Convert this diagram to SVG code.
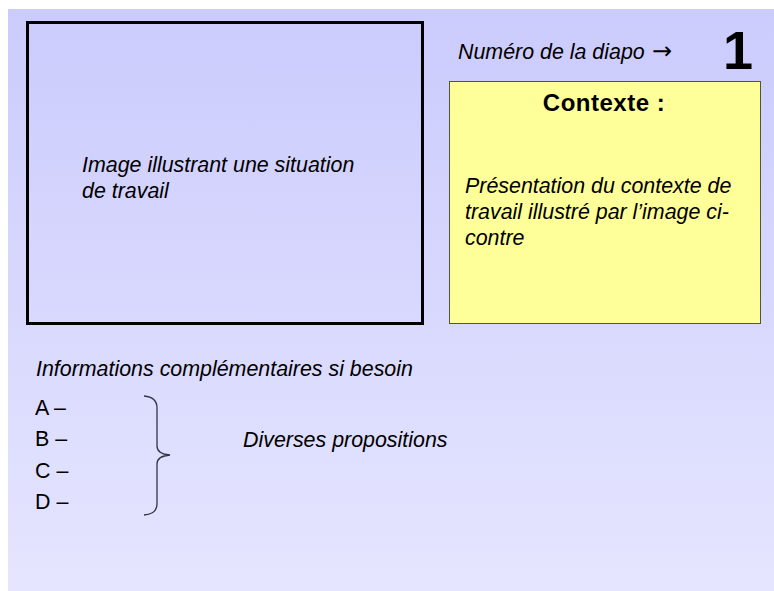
<svg xmlns="http://www.w3.org/2000/svg" width="774" height="591" viewBox="0 0 774 591">
<defs>
<linearGradient id="bg" x1="0" y1="0" x2="0" y2="1">
<stop offset="0" stop-color="#cbcbfd"/>
<stop offset="1" stop-color="#e5e5ff"/>
</linearGradient>
</defs>
<style>
text{font-family:"Liberation Sans",Arial,sans-serif;fill:#000}
.it{font-style:italic;font-size:21.4px}
.rg{font-size:21.4px}
</style>
<rect x="0" y="0" width="774" height="591" fill="#ffffff"/>
<rect x="8" y="9" width="766" height="582" fill="url(#bg)"/>
<g id="image-box">
<rect x="27.5" y="22.5" width="395" height="301" fill="none" stroke="#000" stroke-width="3"/>
<text class="it" x="82" y="172">Image illustrant une situation</text>
<text class="it" x="82" y="198">de travail</text>
</g>
<g id="slide-number">
<text class="it" x="458" y="59">Numéro de la diapo <tspan x="652" font-family="'DejaVu Sans',sans-serif" font-style="normal" font-size="24">→</tspan></text>
<text x="723" y="69" font-size="54" font-weight="bold">1</text>
</g>
<g id="context-box">
<rect x="449.5" y="81.5" width="311" height="242" fill="#ffff99" stroke="#555533" stroke-width="1"/>
<text x="604" y="111" font-size="24" font-weight="bold" letter-spacing="0.5" text-anchor="middle">Contexte :</text>
<text class="it" x="465" y="193">Présentation du contexte de</text>
<text class="it" x="465" y="219">travail illustré par l’image ci-</text>
<text class="it" x="465" y="245">contre</text>
</g>
<g id="info">
<text class="it" x="36" y="376">Informations complémentaires si besoin</text>
<text class="rg" x="35" y="415">A –</text>
<text class="rg" x="35" y="446">B –</text>
<text class="rg" x="35" y="478">C –</text>
<text class="rg" x="35" y="509">D –</text>
</g>
<g id="connectors">
<path d="M144 396 Q157 397 157 408 L157 446 Q157 454 170 455 Q157 456 157 464 L157 504 Q157 514 144 515" fill="none" stroke="#333344" stroke-width="1.3"/>
</g>
<g id="propositions">
<text class="it" x="243" y="447">Diverses propositions</text>
</g>
</svg>
